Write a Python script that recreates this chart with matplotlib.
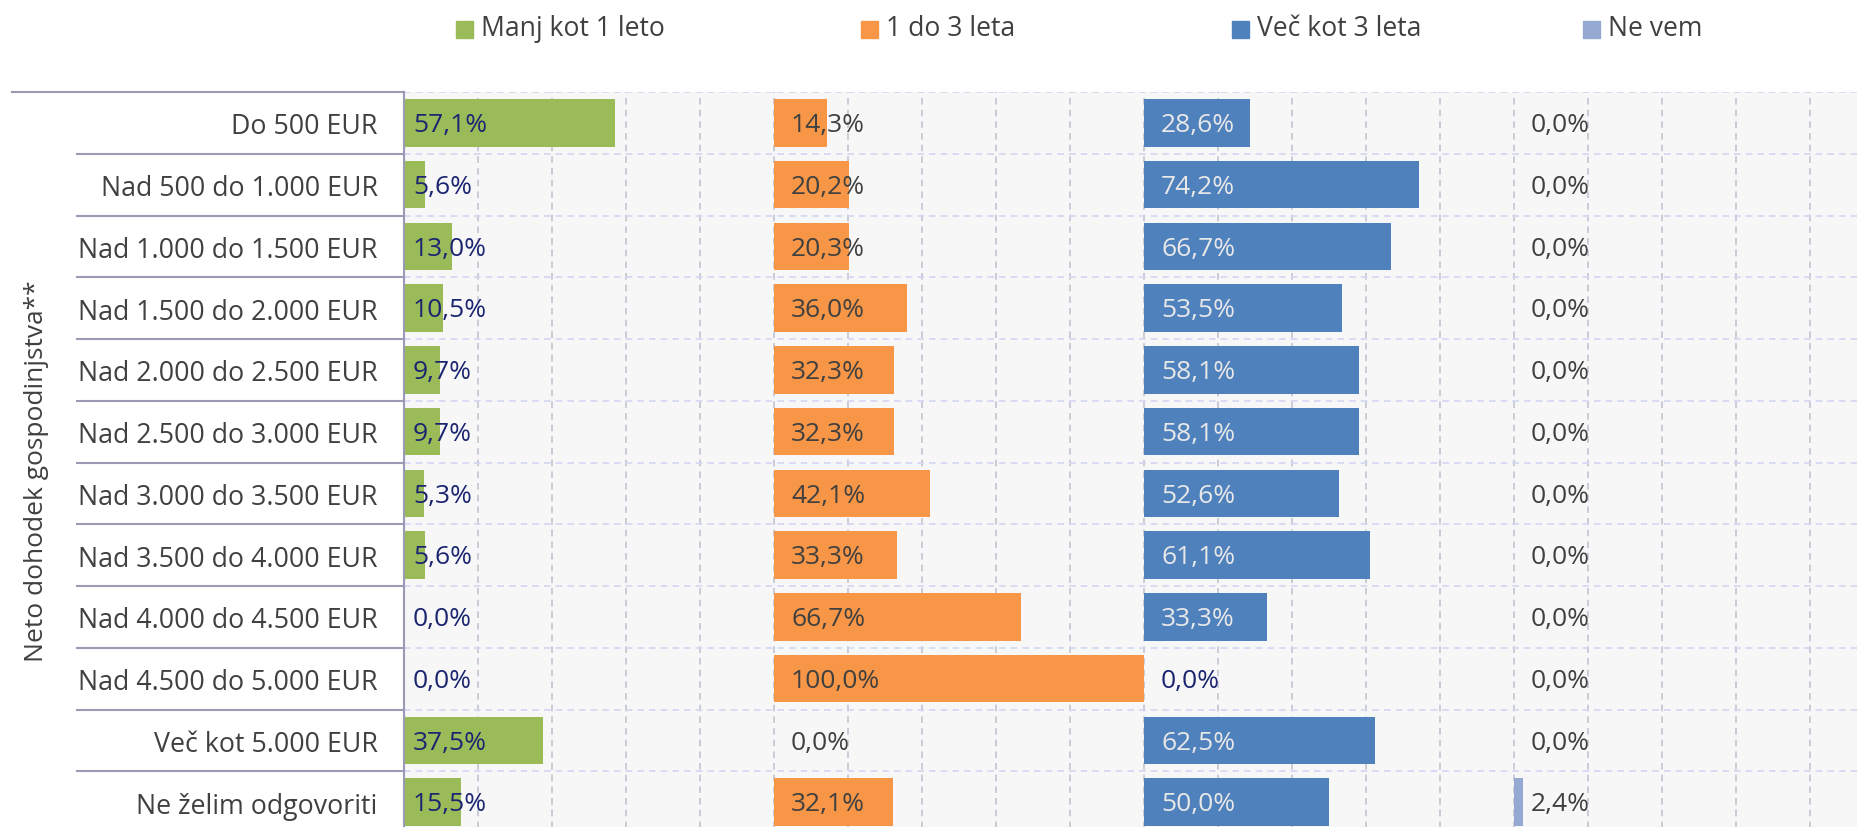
import numpy as np
import matplotlib
matplotlib.use("Agg")
import matplotlib.pyplot as plt
from matplotlib.patches import Rectangle
from matplotlib.transforms import blended_transform_factory

plt.rcParams['font.family'] = ['Open Sans', 'DejaVu Sans']

# --- podatki ---
categories = ["Do 500 EUR", "Nad 500 do 1.000 EUR", "Nad 1.000 do 1.500 EUR",
              "Nad 1.500 do 2.000 EUR", "Nad 2.000 do 2.500 EUR", "Nad 2.500 do 3.000 EUR",
              "Nad 3.000 do 3.500 EUR", "Nad 3.500 do 4.000 EUR", "Nad 4.000 do 4.500 EUR",
              "Nad 4.500 do 5.000 EUR", "Več kot 5.000 EUR", "Ne želim odgovoriti"]
series_names = ["Manj kot 1 leto", "1 do 3 leta", "Več kot 3 leta", "Ne vem"]
manj_1 = [57.1, 5.6, 13.0, 10.5, 9.7, 9.7, 5.3, 5.6, 0.0, 0.0, 37.5, 15.5]
od_1_do_3 = [14.3, 20.2, 20.3, 36.0, 32.3, 32.3, 42.1, 33.3, 66.7, 100.0, 0.0, 32.1]
vec_3 = [28.6, 74.2, 66.7, 53.5, 58.1, 58.1, 52.6, 61.1, 33.3, 0.0, 62.5, 50.0]
ne_vem = [0.0, 0.0, 0.0, 0.0, 0.0, 0.0, 0.0, 0.0, 0.0, 0.0, 0.0, 2.4]
y_label = "Neto dohodek gospodinjstva**"

colors = ['#9BBB59', '#F79646', '#4F81BD', '#95A9D3']
navy = '#1B2570'
grey = '#404040'
light = '#E8E8E8'

W, H = 1858, 828
fig = plt.figure(figsize=(W / 100, H / 100), dpi=100)
fig.patch.set_facecolor('white')

left_px, top_px, bottom_px = 404, 93, 834
ax = fig.add_axes([left_px / W, (H - bottom_px) / H, (W - left_px) / W, (bottom_px - top_px) / H])
ax.set_facecolor('#F7F7F7')

panel_px = 370.0
xmax = (W - left_px) / panel_px * 100
y = np.arange(len(categories))

all_series = [manj_1, od_1_do_3, vec_3, ne_vem]
for k, vals in enumerate(all_series):
    ax.barh(y, vals, left=100 * k, height=0.77, color=colors[k], zorder=2)

# oznake vrednosti
for k, vals in enumerate(all_series):
    off = 2.4 if k == 0 else 4.6
    for i, v in enumerate(vals):
        if k == 0:
            c = navy
        elif k == 2:
            c = light if v > 0 else navy
        else:
            c = grey
        ax.text(100 * k + off, i + 0.03, f"{v:.1f}%".replace('.', ','), va='center', ha='left',
                fontsize=19, color=c, zorder=3)

ax.set_xlim(0, xmax)
ax.set_ylim(len(categories) - 0.5, -0.5)
ax.set_xticks(np.arange(0, xmax, 20))
ax.set_xticklabels([])
ax.set_yticks(y)
ax.set_yticklabels(categories, fontsize=19.3, color='#404040')
ax.set_yticks(np.arange(-0.5, len(categories), 1), minor=True)
ax.tick_params(axis='both', which='both', length=0)
ax.tick_params(axis='y', pad=19)
ax.grid(axis='x', which='major', color='#C4C4D4', linestyle=(0, (4, 3)), linewidth=1.2, zorder=0)
ax.grid(axis='y', which='minor', color='#D2D6F2', linestyle=(0, (4, 3)), linewidth=1.2, zorder=0)
ax.set_axisbelow(True)
for s in ['top', 'right', 'bottom']:
    ax.spines[s].set_visible(False)
ax.spines['left'].set_color('#9A9AB4')
ax.spines['left'].set_linewidth(1.5)

# ločilne črte med kategorijami
tr = blended_transform_factory(fig.transFigure, ax.transData)
for b in np.arange(0.5, len(categories) - 1, 1):
    ax.plot([77 / W, left_px / W], [b, b], transform=tr, color='#9A9AB4', lw=1.5, clip_on=False)
ax.plot([12 / W, left_px / W], [-0.5, -0.5], transform=tr, color='#9A9AB4', lw=1.5, clip_on=False)

fig.text(37 / W, 1 - 471 / H, y_label, rotation=90, ha='center', va='center',
         fontsize=19, color='#404040')

# legenda
leg_x = [456, 861, 1232, 1583]
sq = 17
for k, name in enumerate(series_names):
    fig.patches.append(Rectangle((leg_x[k] / W, 1 - 39 / H), sq / W, sq / H,
                                 transform=fig.transFigure, color=colors[k]))
    fig.text((leg_x[k] + 25) / W, 1 - 29 / H, name, ha='left', va='center',
             fontsize=19.1, color='#404040')

fig.savefig('out.png', dpi=100, facecolor=fig.get_facecolor())
